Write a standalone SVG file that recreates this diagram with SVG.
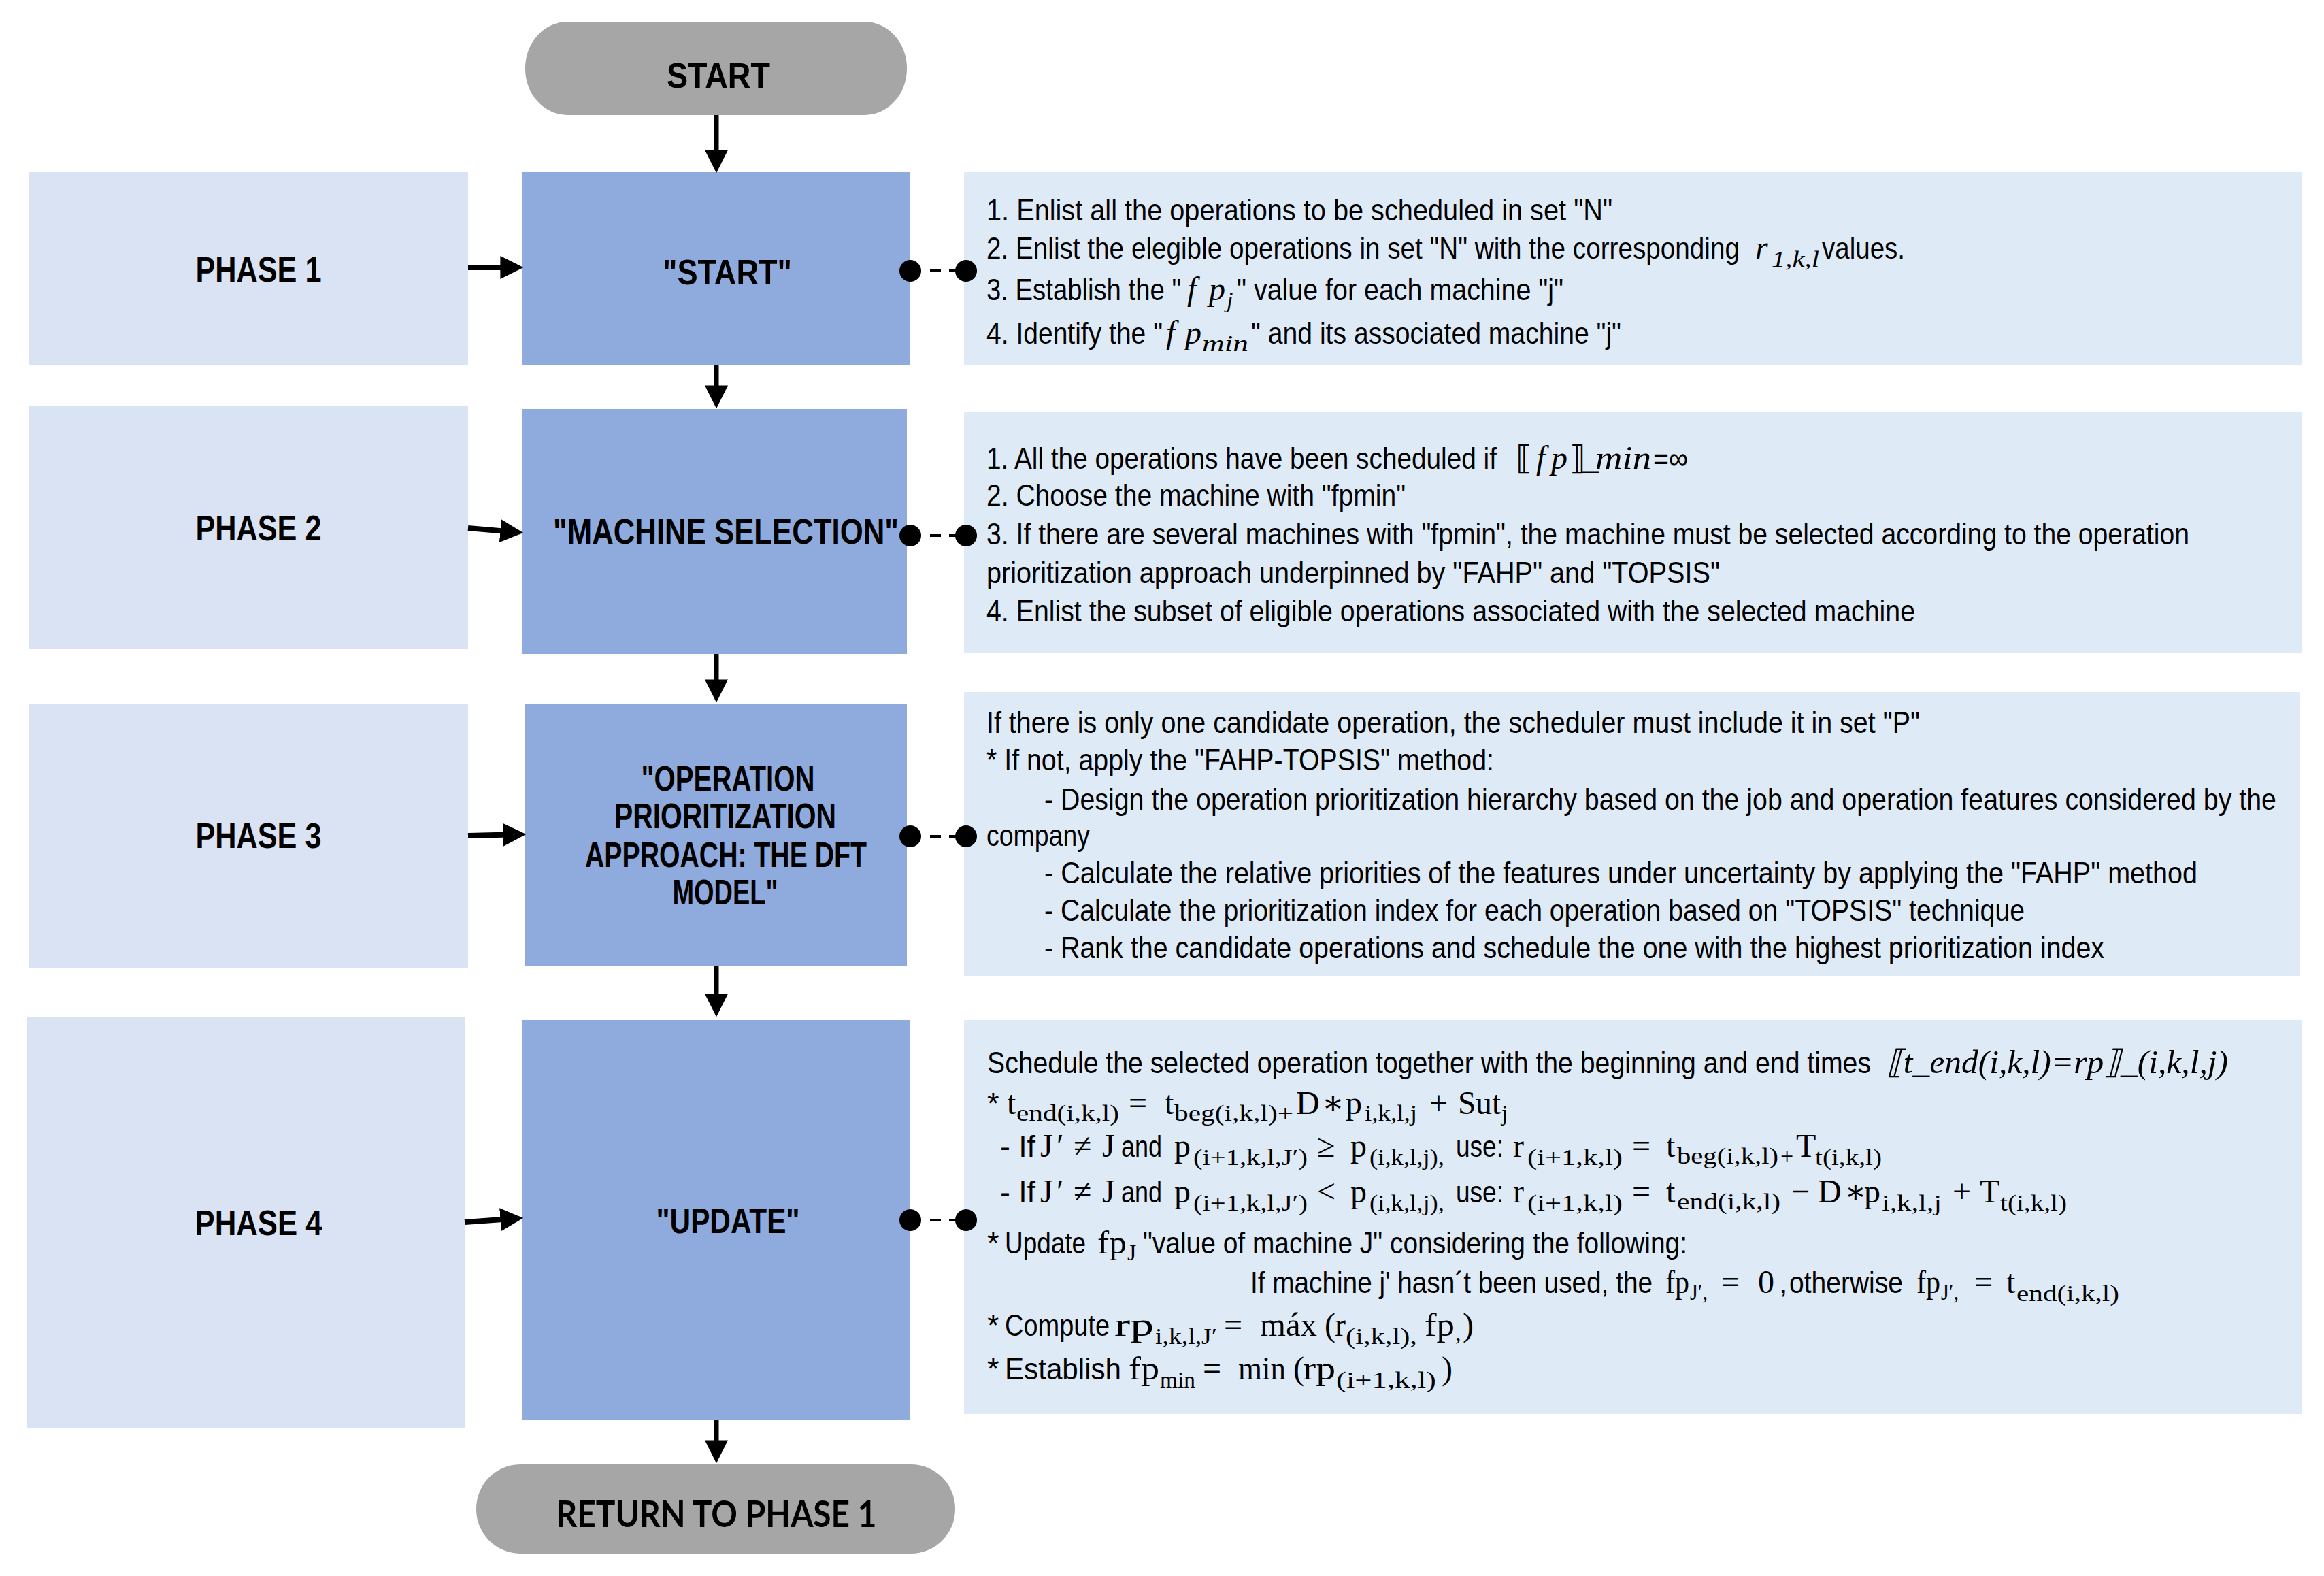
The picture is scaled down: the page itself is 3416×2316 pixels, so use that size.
<svg xmlns="http://www.w3.org/2000/svg" width="3416" height="2316" viewBox="0 0 3416 2316">
<style>
.t{font-family:"Liberation Sans Narrow","Liberation Sans",Arial,sans-serif;font-size:45px;fill:#000}
.mi{font-family:"Liberation Serif","DejaVu Serif",serif;font-style:italic;font-size:48px}
.mu{font-family:"Liberation Serif","DejaVu Serif",serif;font-style:normal;font-size:48px}
.s{font-size:34px}
.b{font-family:"Liberation Sans Narrow","Liberation Sans",Arial,sans-serif;font-weight:bold;font-size:52px;text-anchor:middle;fill:#000}
.r{font-family:Lato,"Liberation Sans",sans-serif;font-weight:bold;font-size:54px;text-anchor:middle;fill:#000}
.ph{fill:#DAE3F3}
.st{fill:#8FAADC}
.ds{fill:#DEEBF7}
.pill{fill:#A6A6A6}
.ar{stroke:#000;stroke-width:7;fill:none}
.ah{stroke:#000;stroke-width:8;fill:none}
.dl{stroke:#000;stroke-width:4;stroke-dasharray:16 12;fill:none}
.dot{fill:#000}
</style>
<defs>
<marker id="arr" markerUnits="userSpaceOnUse" markerWidth="34" markerHeight="34" viewBox="0 0 32 32" refX="10" refY="16" orient="auto">
<path d="M0,0 L32,16 L0,32 z" fill="#000"/>
</marker>
</defs>
<rect width="3416" height="2316" fill="#fff"/>

<g id="start">
<rect class="pill" x="772" y="32" width="561" height="137" rx="62" ry="68"/>
<text class="b" x="1056" y="129" textLength="152" lengthAdjust="spacingAndGlyphs">START</text>
</g>

<g id="phase1">
<rect class="ph" x="43" y="253" width="645" height="284"/>
<text class="b" x="380" y="414" textLength="185" lengthAdjust="spacingAndGlyphs">PHASE 1</text>
</g>
<g id="phase2">
<rect class="ph" x="43" y="597" width="645" height="356"/>
<text class="b" x="380" y="794" textLength="185" lengthAdjust="spacingAndGlyphs">PHASE 2</text>
</g>
<g id="phase3">
<rect class="ph" x="43" y="1035" width="645" height="387"/>
<text class="b" x="380" y="1246" textLength="185" lengthAdjust="spacingAndGlyphs">PHASE 3</text>
</g>
<g id="phase4">
<rect class="ph" x="39" y="1495" width="644" height="604"/>
<text class="b" x="380" y="1815" textLength="187" lengthAdjust="spacingAndGlyphs">PHASE 4</text>
</g>

<g id="step-start">
<rect class="st" x="768" y="253" width="569" height="284"/>
<text class="b" x="1069" y="418" textLength="190" lengthAdjust="spacingAndGlyphs">"START"</text>
</g>
<g id="step-machine">
<rect class="st" x="768" y="601" width="565" height="360"/>
<text class="b" x="1067" y="799" textLength="508" lengthAdjust="spacingAndGlyphs">"MACHINE SELECTION"</text>
</g>
<g id="step-operation">
<rect class="st" x="772" y="1034" width="561" height="385"/>
<text class="b" x="1070" y="1162" textLength="255" lengthAdjust="spacingAndGlyphs">"OPERATION</text>
<text class="b" x="1066" y="1217" textLength="326" lengthAdjust="spacingAndGlyphs">PRIORITIZATION</text>
<text class="b" x="1067" y="1274" textLength="414" lengthAdjust="spacingAndGlyphs">APPROACH: THE DFT</text>
<text class="b" x="1066" y="1329" textLength="155" lengthAdjust="spacingAndGlyphs">MODEL"</text>
</g>
<g id="step-update">
<rect class="st" x="768" y="1499" width="569" height="588"/>
<text class="b" x="1070" y="1812" textLength="211" lengthAdjust="spacingAndGlyphs">"UPDATE"</text>
</g>

<g id="return">
<rect class="pill" x="700" y="2152" width="704" height="131" rx="65" ry="65"/>
<text class="r" x="1053" y="2244" textLength="471" lengthAdjust="spacingAndGlyphs">RETURN TO PHASE 1</text>
</g>

<g id="desc1">
<rect class="ds" x="1417" y="253" width="1966" height="284"/>
<text class="t" y="324"><tspan x="1450" textLength="920" lengthAdjust="spacingAndGlyphs">1. Enlist all the operations  to be scheduled  in set "N"</tspan></text>
<text class="t" y="380"><tspan x="1450" textLength="1107" lengthAdjust="spacingAndGlyphs">2. Enlist the elegible operations  in set "N" with the corresponding</tspan><tspan class="mi" x="2580" y="380">r</tspan><tspan class="mi s" x="2604" y="392" textLength="70" lengthAdjust="spacingAndGlyphs">1,k,l</tspan><tspan x="2678" y="380" textLength="122" lengthAdjust="spacingAndGlyphs">values.</tspan></text>
<text class="t" y="441"><tspan x="1450" textLength="286" lengthAdjust="spacingAndGlyphs">3. Establish the "</tspan><tspan class="mi" x="1745" y="441" textLength="56" lengthAdjust="spacing">fp</tspan><tspan class="mi s" x="1803" y="452">j</tspan><tspan x="1818" y="441" textLength="480" lengthAdjust="spacingAndGlyphs">" value for each machine "j"</tspan></text>
<text class="t" y="505"><tspan x="1450" textLength="259" lengthAdjust="spacingAndGlyphs">4. Identify the "</tspan><tspan class="mi" x="1714" y="505" textLength="52" lengthAdjust="spacing">fp</tspan><tspan class="mi s" x="1767" y="516" textLength="68" lengthAdjust="spacingAndGlyphs">min</tspan><tspan x="1839" y="505" textLength="544" lengthAdjust="spacingAndGlyphs">" and its associated  machine "j"</tspan></text>
</g>

<g id="desc2">
<rect class="ds" x="1417" y="605" width="1966" height="354"/>
<text class="t" y="689"><tspan x="1450" textLength="750" lengthAdjust="spacingAndGlyphs">1. All the operations  have been scheduled  if</tspan><tspan class="mu" x="2228" y="689">⟦</tspan><tspan class="mi" x="2258" y="689" textLength="46" lengthAdjust="spacing">fp</tspan><tspan class="mu" x="2307" y="689">⟧</tspan><tspan class="mu" x="2326" y="689">_</tspan><tspan class="mi" x="2345" y="689" textLength="82" lengthAdjust="spacingAndGlyphs">min</tspan><tspan x="2430" y="689" textLength="51" lengthAdjust="spacingAndGlyphs">=∞</tspan></text>
<text class="t" y="743"><tspan x="1450" textLength="616" lengthAdjust="spacingAndGlyphs">2. Choose the machine with "fpmin"</tspan></text>
<text class="t" y="800"><tspan x="1450" textLength="1768" lengthAdjust="spacingAndGlyphs">3. If there are several machines with "fpmin", the machine must be selected  according  to the operation</tspan></text>
<text class="t" y="857"><tspan x="1450" textLength="1078" lengthAdjust="spacingAndGlyphs">prioritization  approach  underpinned  by "FAHP" and "TOPSIS"</tspan></text>
<text class="t" y="913"><tspan x="1450" textLength="1365" lengthAdjust="spacingAndGlyphs">4. Enlist the subset of eligible operations  associated  with the selected  machine</tspan></text>
</g>

<g id="desc3">
<rect class="ds" x="1417" y="1017" width="1963" height="418"/>
<text class="t" y="1077"><tspan x="1450" textLength="1372" lengthAdjust="spacingAndGlyphs">If there is only one candidate  operation,  the scheduler  must include it in set "P"</tspan></text>
<text class="t" y="1132"><tspan x="1450" textLength="746" lengthAdjust="spacingAndGlyphs">* If not, apply the "FAHP-TOPSIS" method:</tspan></text>
<text class="t" y="1190"><tspan x="1535" textLength="1811" lengthAdjust="spacingAndGlyphs">- Design the operation  prioritization  hierarchy  based on the job and operation  features  considered  by the</tspan></text>
<text class="t" y="1243"><tspan x="1450" textLength="152" lengthAdjust="spacingAndGlyphs">company</tspan></text>
<text class="t" y="1298"><tspan x="1535" textLength="1695" lengthAdjust="spacingAndGlyphs">- Calculate the relative priorities  of the features  under uncertainty  by applying the "FAHP" method</tspan></text>
<text class="t" y="1353"><tspan x="1535" textLength="1441" lengthAdjust="spacingAndGlyphs">- Calculate the prioritization  index for each operation  based on "TOPSIS" technique</tspan></text>
<text class="t" y="1408"><tspan x="1535" textLength="1558" lengthAdjust="spacingAndGlyphs">- Rank the candidate operations  and schedule the one with the highest prioritization  index</tspan></text>
</g>

<g id="desc4">
<rect class="ds" x="1417" y="1499" width="1966" height="579"/>
<text class="t" y="1577"><tspan x="1451" textLength="1299" lengthAdjust="spacingAndGlyphs">Schedule the selected operation together with the beginning and end times</tspan><tspan class="mi" x="2773" y="1577" textLength="502" lengthAdjust="spacingAndGlyphs">⟦t_end(i,k,l)=rp⟧_(i,k,l,j)</tspan></text>
<text class="t" y="1637"><tspan x="1451">*</tspan><tspan class="mu" x="1480" y="1637">t</tspan><tspan class="mu s" x="1494" y="1647" textLength="151" lengthAdjust="spacingAndGlyphs">end(i,k,l)</tspan><tspan class="mu" x="1659" y="1637">=</tspan><tspan class="mu" x="1712" y="1637">t</tspan><tspan class="mu s" x="1726" y="1647" textLength="175" lengthAdjust="spacingAndGlyphs">beg(i,k,l)+</tspan><tspan class="mu" x="1905" y="1637">D</tspan><tspan class="mu" x="1943" y="1637">∗</tspan><tspan class="mu" x="1978" y="1637">p</tspan><tspan class="mu s" x="2006" y="1647" textLength="77" lengthAdjust="spacingAndGlyphs">i,k,l,j</tspan><tspan class="mu" x="2101" y="1637">+</tspan><tspan class="mu" x="2143" y="1637" textLength="63" lengthAdjust="spacingAndGlyphs">Sut</tspan><tspan class="mu s" x="2207" y="1647">j</tspan></text>
<text class="t" y="1700"><tspan x="1470" textLength="52" lengthAdjust="spacingAndGlyphs">- If</tspan><tspan class="mu" x="1529" y="1700">J</tspan><tspan class="mu" x="1553" y="1700">′</tspan><tspan class="mu" x="1578" y="1700">≠</tspan><tspan class="mu" x="1620" y="1700">J</tspan><tspan x="1648" y="1700" textLength="60" lengthAdjust="spacingAndGlyphs">and</tspan><tspan class="mu" x="1726" y="1700">p</tspan><tspan class="mu s" x="1754" y="1712" textLength="168" lengthAdjust="spacingAndGlyphs">(i+1,k,l,J′)</tspan><tspan class="mu" x="1936" y="1700">≥</tspan><tspan class="mu" x="1985" y="1700">p</tspan><tspan class="mu s" x="2013" y="1712" textLength="110" lengthAdjust="spacingAndGlyphs">(i,k,l,j),</tspan><tspan x="2140" y="1700" textLength="70" lengthAdjust="spacingAndGlyphs">use:</tspan><tspan class="mu" x="2224" y="1700">r</tspan><tspan class="mu s" x="2245" y="1712" textLength="140" lengthAdjust="spacingAndGlyphs">(i+1,k,l)</tspan><tspan class="mu" x="2399" y="1700">=</tspan><tspan class="mu" x="2449" y="1700">t</tspan><tspan class="mu s" x="2465" y="1710" textLength="149" lengthAdjust="spacingAndGlyphs">beg(i,k,l)</tspan><tspan class="mu s" x="2617" y="1710">+</tspan><tspan class="mu" x="2640" y="1700">T</tspan><tspan class="mu s" x="2668" y="1712" textLength="98" lengthAdjust="spacingAndGlyphs">t(i,k,l)</tspan></text>
<text class="t" y="1767"><tspan x="1470" textLength="52" lengthAdjust="spacingAndGlyphs">- If</tspan><tspan class="mu" x="1529" y="1767">J</tspan><tspan class="mu" x="1553" y="1767">′</tspan><tspan class="mu" x="1578" y="1767">≠</tspan><tspan class="mu" x="1620" y="1767">J</tspan><tspan x="1648" y="1767" textLength="60" lengthAdjust="spacingAndGlyphs">and</tspan><tspan class="mu" x="1726" y="1767">p</tspan><tspan class="mu s" x="1754" y="1779" textLength="168" lengthAdjust="spacingAndGlyphs">(i+1,k,l,J′)</tspan><tspan class="mu" x="1936" y="1767">&lt;</tspan><tspan class="mu" x="1985" y="1767">p</tspan><tspan class="mu s" x="2013" y="1779" textLength="110" lengthAdjust="spacingAndGlyphs">(i,k,l,j),</tspan><tspan x="2140" y="1767" textLength="70" lengthAdjust="spacingAndGlyphs">use:</tspan><tspan class="mu" x="2224" y="1767">r</tspan><tspan class="mu s" x="2245" y="1779" textLength="140" lengthAdjust="spacingAndGlyphs">(i+1,k,l)</tspan><tspan class="mu" x="2399" y="1767">=</tspan><tspan class="mu" x="2449" y="1767">t</tspan><tspan class="mu s" x="2465" y="1777" textLength="152" lengthAdjust="spacingAndGlyphs">end(i,k,l)</tspan><tspan class="mu" x="2633" y="1767">−</tspan><tspan class="mu" x="2672" y="1767">D</tspan><tspan class="mu" x="2711" y="1767">∗</tspan><tspan class="mu" x="2740" y="1767">p</tspan><tspan class="mu s" x="2766" y="1779" textLength="88" lengthAdjust="spacingAndGlyphs">i,k,l,j</tspan><tspan class="mu" x="2870" y="1767">+</tspan><tspan class="mu" x="2910" y="1767">T</tspan><tspan class="mu s" x="2940" y="1779" textLength="98" lengthAdjust="spacingAndGlyphs">t(i,k,l)</tspan></text>
<text class="t" y="1842"><tspan x="1451">*</tspan><tspan x="1477" y="1842" textLength="119" lengthAdjust="spacingAndGlyphs">Update</tspan><tspan class="mu" x="1613" y="1842" textLength="43" lengthAdjust="spacingAndGlyphs">fp</tspan><tspan class="mu s" x="1657" y="1852">J</tspan><tspan x="1680" y="1842" textLength="800" lengthAdjust="spacingAndGlyphs">"value of machine J" considering  the following:</tspan></text>
<text class="t" y="1900"><tspan x="1838" textLength="591" lengthAdjust="spacingAndGlyphs">If machine j' hasn´t been used, the</tspan><tspan class="mu" x="2448" y="1900" textLength="35" lengthAdjust="spacingAndGlyphs">fp</tspan><tspan class="mu s" x="2484" y="1910" textLength="26" lengthAdjust="spacingAndGlyphs">J′,</tspan><tspan class="mu" x="2530" y="1900">=</tspan><tspan class="mu" x="2584" y="1900">0</tspan><tspan x="2615" y="1900">,</tspan><tspan x="2630" y="1900" textLength="167" lengthAdjust="spacingAndGlyphs">otherwise</tspan><tspan class="mu" x="2817" y="1900" textLength="35" lengthAdjust="spacingAndGlyphs">fp</tspan><tspan class="mu s" x="2853" y="1910" textLength="26" lengthAdjust="spacingAndGlyphs">J′,</tspan><tspan class="mu" x="2902" y="1900">=</tspan><tspan class="mu" x="2949" y="1900">t</tspan><tspan class="mu s" x="2964" y="1912" textLength="151" lengthAdjust="spacingAndGlyphs">end(i,k,l)</tspan></text>
<text class="t" y="1963"><tspan x="1451">*</tspan><tspan x="1477" y="1963" textLength="154" lengthAdjust="spacingAndGlyphs">Compute</tspan><tspan class="mu" x="1638" y="1963" textLength="58" lengthAdjust="spacingAndGlyphs">rp</tspan><tspan class="mu s" x="1698" y="1975" textLength="91" lengthAdjust="spacingAndGlyphs">i,k,l,J′</tspan><tspan class="mu" x="1799" y="1963">=</tspan><tspan class="mu" x="1852" y="1963" textLength="84" lengthAdjust="spacingAndGlyphs">máx</tspan><tspan class="mu" x="1947" y="1963">(</tspan><tspan class="mu" x="1962" y="1963">r</tspan><tspan class="mu s" x="1978" y="1975" textLength="105" lengthAdjust="spacingAndGlyphs">(i,k,l),</tspan><tspan class="mu" x="2094" y="1963" textLength="44" lengthAdjust="spacingAndGlyphs">fp</tspan><tspan class="mu s" x="2139" y="1970">,</tspan><tspan class="mu" x="2150" y="1963">)</tspan></text>
<text class="t" y="2027"><tspan x="1451">*</tspan><tspan x="1477" y="2027" textLength="171" lengthAdjust="spacingAndGlyphs">Establish</tspan><tspan class="mu" x="1659" y="2027" textLength="45" lengthAdjust="spacingAndGlyphs">fp</tspan><tspan class="mu s" x="1705" y="2039" textLength="52" lengthAdjust="spacingAndGlyphs">min</tspan><tspan class="mu" x="1768" y="2027">=</tspan><tspan class="mu" x="1820" y="2027" textLength="70" lengthAdjust="spacingAndGlyphs">min</tspan><tspan class="mu" x="1901" y="2027">(</tspan><tspan class="mu" x="1915" y="2027" textLength="48" lengthAdjust="spacingAndGlyphs">rp</tspan><tspan class="mu s" x="1964" y="2039" textLength="147" lengthAdjust="spacingAndGlyphs">(i+1,k,l)</tspan><tspan class="mu" x="2119" y="2027">)</tspan></text>
</g>

<g id="connectors">
<line class="ar" x1="1053" y1="169" x2="1053" y2="231" marker-end="url(#arr)"/>
<line class="ar" x1="1053" y1="537" x2="1053" y2="577" marker-end="url(#arr)"/>
<line class="ar" x1="1053" y1="961" x2="1053" y2="1009" marker-end="url(#arr)"/>
<line class="ar" x1="1053" y1="1419" x2="1053" y2="1471" marker-end="url(#arr)"/>
<line class="ar" x1="1053" y1="2087" x2="1053" y2="2127" marker-end="url(#arr)"/>
<line class="ah" x1="688" y1="393" x2="746" y2="393" marker-end="url(#arr)"/>
<line class="ah" x1="688" y1="776" x2="746" y2="781" marker-end="url(#arr)"/>
<line class="ah" x1="688" y1="1228" x2="750" y2="1226.5" marker-end="url(#arr)"/>
<line class="ah" x1="683" y1="1796" x2="746" y2="1791.5" marker-end="url(#arr)"/>
<line class="dl" x1="1367" y1="398" x2="1420" y2="398"/>
<circle class="dot" cx="1338" cy="398" r="16"/><circle class="dot" cx="1420" cy="398" r="16"/>
<line class="dl" x1="1367" y1="787" x2="1420" y2="787"/>
<circle class="dot" cx="1338" cy="787" r="16"/><circle class="dot" cx="1420" cy="787" r="16"/>
<line class="dl" x1="1367" y1="1229" x2="1420" y2="1229"/>
<circle class="dot" cx="1338" cy="1229" r="16"/><circle class="dot" cx="1420" cy="1229" r="16"/>
<line class="dl" x1="1367" y1="1793" x2="1420" y2="1793"/>
<circle class="dot" cx="1338" cy="1793" r="16"/><circle class="dot" cx="1420" cy="1793" r="16"/>
</g>
</svg>
